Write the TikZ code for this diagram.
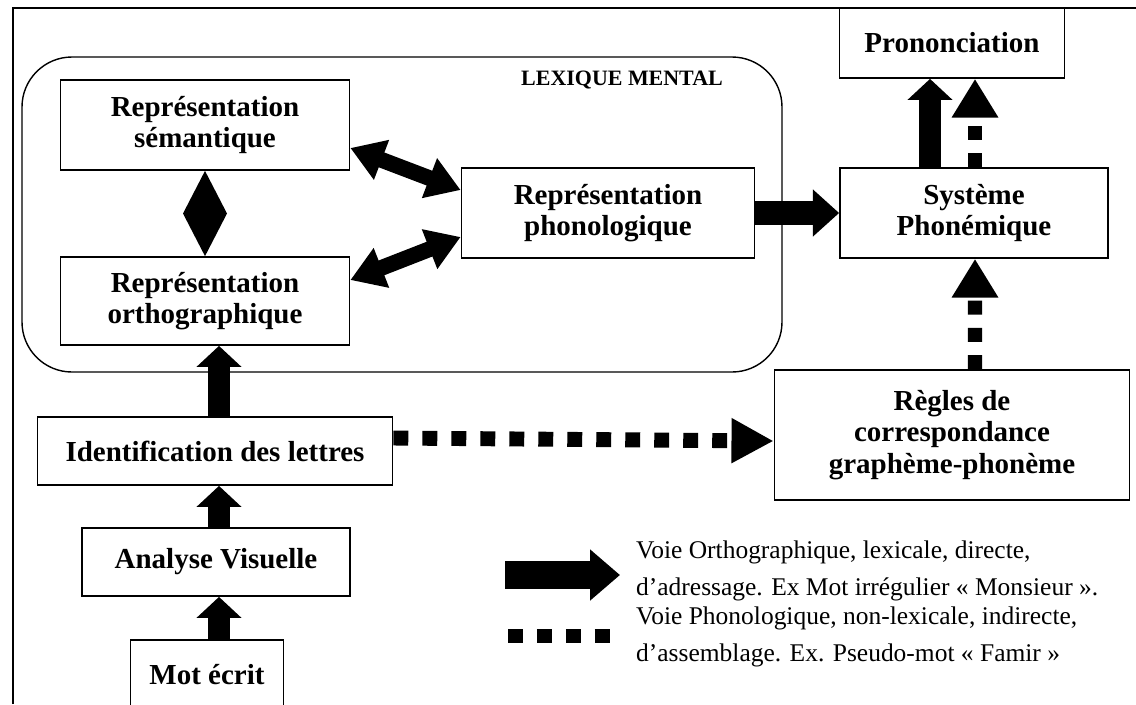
\documentclass[tikz,border=0pt]{standalone}
\usepackage{fontspec}
\setmainfont{Liberation Serif}
\usetikzlibrary{arrows.meta,calc}

\begin{document}
\begin{tikzpicture}[x=0.02cm, y=-0.02cm,
  box/.style={draw, line width=1pt, align=center, inner sep=2pt,
    font=\bfseries\fontsize{16.5}{18}\selectfont},
  fatarrow/.style={line width=14pt, -{Triangle[width=26pt,length=15pt]}},
  uparrow/.style={line width=12.5pt, -{Triangle[width=25pt,length=12pt]}},
  twoway/.style={line width=9pt, {Triangle[width=23pt,length=19pt]}-{Triangle[width=23pt,length=19pt]}},
  dotarrow/.style={line width=8.5pt, dash pattern=on 8.5pt off 8pt, -{Triangle[width=24pt,length=24pt]}},
  dotup/.style={line width=8pt, dash pattern=on 8pt off 7.5pt, -{Triangle[width=25pt,length=22pt]}},
  legend/.style={align=left, anchor=west, font=\fontsize{14.5}{21}\selectfont}]
\useasboundingbox (0,0) rectangle (1136,704);
\clip (0,0) rectangle (1136,704);

% Frame
\draw[line width=1.6pt] (13,704) -- (13,8) -- (1136,8);
\draw[line width=0.8pt, rounded corners=1cm] (22,57) rectangle (782,372);
\node[font=\bfseries\fontsize{12.5}{15}\selectfont] (lex) at (622,80) {LEXIQUE MENTAL};

% Nodes
\node[box, minimum width=5.78cm, minimum height=1.8cm] (sem) at (205,125) {Représentation\\sémantique};
\node[box, minimum width=5.78cm, minimum height=1.76cm] (orth) at (205,301) {Représentation\\orthographique};
\node[box, minimum width=5.86cm, minimum height=1.8cm] (phono) at (608,213) {Représentation\\phonologique};
\node[box, minimum width=4.5cm, minimum height=1.4cm] (pron) at (952,43) {Prononciation};
\node[box, minimum width=5.36cm, minimum height=1.8cm] (sys) at (974,213) {Système\\Phonémique};
\node[box, minimum width=7.1cm, minimum height=2.6cm] (regles) at (952,435) {Règles de\\correspondance\\graphème-phonème};
\node[box, minimum width=7.1cm, minimum height=1.36cm] (ident) at (215,451) {Identification des lettres};
\node[box, minimum width=5.36cm, minimum height=1.36cm] (analyse) at (216,562) {Analyse Visuelle};
\node[box, minimum width=3.06cm, minimum height=1.4cm] (mot) at (207,675) {Mot écrit};

% Arrows
\fill (sem.south) -- ($(sem.south)!0.5!(orth.north)+(22,0)$) -- (orth.north)
  -- ($(sem.south)!0.5!(orth.north)+(-22,0)$) -- cycle;
\draw[twoway] ([yshift=-0.46cm]sem.east) -- ([yshift=0.46cm]phono.west);
\draw[twoway] ([yshift=-0.48cm]phono.west) -- ([yshift=0.42cm]orth.east);
\draw[fatarrow] (phono.east) -- (sys.west);
\draw[uparrow] ([xshift=-0.88cm]sys.north) -- ([xshift=-0.88cm]sys.north |- pron.south);
\draw[dotup] ([xshift=0.02cm]sys.north) -- ([xshift=0.02cm]sys.north |- pron.south);
\draw[dotup] ([xshift=0.46cm]regles.north) -- ([xshift=0.02cm]sys.south);
\draw[dotarrow] ([yshift=0.26cm]ident.east) -- ([yshift=0.2cm]ident.east -| regles.west);
\draw[uparrow] ([xshift=0.08cm]ident.north) -- ([xshift=0.08cm]ident.north |- orth.south);
\draw[uparrow] ([xshift=0.06cm]analyse.north) -- ([xshift=0.06cm]analyse.north |- ident.south);
\draw[uparrow] ([xshift=0.24cm]mot.north) -- ([xshift=0.24cm]mot.north |- analyse.south);

% Legend
\coordinate (solidA) at (505,575);
\coordinate (solidB) at (620,575);
\coordinate (dotA) at (508,636);
\coordinate (dotB) at (610,636);
\draw[line width=16pt, -{Triangle[width=28pt,length=17pt]}] (solidA) -- (solidB);
\draw[line width=8.5pt, dash pattern=on 8.5pt off 7.94pt] (dotA) -- (dotB);
\node[legend] (solidtxt) at (630,571) {Voie Orthographique, lexicale, directe,\\d’adressage. Ex Mot irrégulier « Monsieur ».};
\node[legend] (dottxt) at (630,637) {Voie Phonologique, non-lexicale, indirecte,\\d’assemblage. Ex. Pseudo-mot « Famir »};
\end{tikzpicture}
\end{document}
